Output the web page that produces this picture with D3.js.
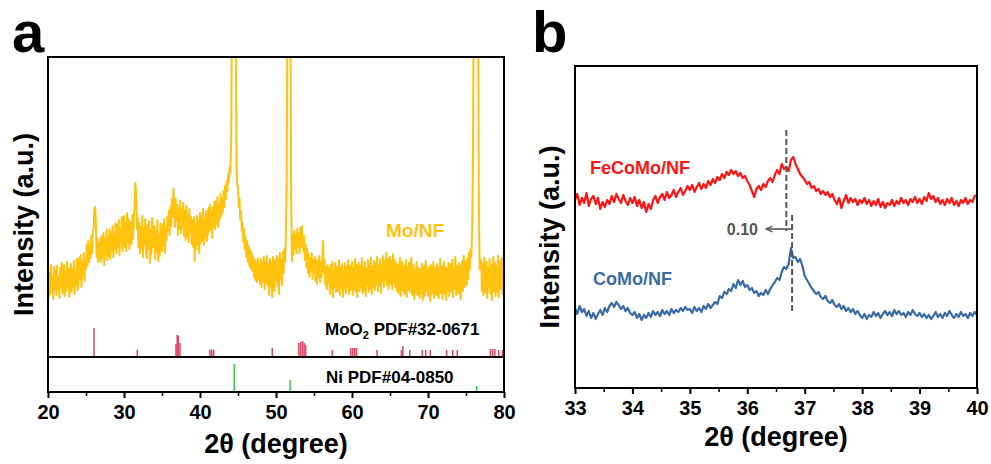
<!DOCTYPE html>
<html>
<head>
<meta charset="utf-8">
<script src="https://cdn.jsdelivr.net/npm/d3@7"></script>
<style>
  body { margin: 0; background: #fff; }
  text { font-family: Arial, "Liberation Sans", sans-serif; font-weight: bold; }
</style>
</head>
<body>
<script>
// ---- panel a data: Mo/NF scan, 20..80 deg, step 0.1 ----
const moStart = 20, moStep = 0.1;
const moNF = [
  88, 60, 84, 63, 92, 66, 81, 58, 90, 68,
  86, 62, 91, 67, 80, 59, 89, 70, 94, 64,
  69, 92, 61, 85, 66, 95, 71, 88, 60, 83,
  93, 65, 87, 70, 96, 63, 84, 72, 98, 67,
  73, 99, 78, 102, 70, 95, 83, 104, 76, 97,
  88, 112, 92, 116, 95, 110, 99, 121, 104, 125,
  128, 148, 150, 135, 100, 118, 95, 114, 98, 119,
  95, 121, 99, 124, 92, 118, 103, 127, 97, 120,
  101, 128, 98, 125, 106, 131, 100, 122, 109, 134,
  104, 132, 110, 137, 102, 128, 115, 140, 106, 130,
  141, 110, 134, 106, 144, 115, 138, 108, 135, 119,
  113, 142, 118, 140, 152, 174, 160, 128, 139, 110,
  134, 104, 130, 109, 141, 100, 128, 112, 138, 105,
  99, 132, 108, 136, 94, 127, 103, 139, 110, 125,
  131, 98, 126, 105, 137, 96, 122, 101, 133, 108,
  106, 133, 112, 138, 104, 129, 117, 140, 126, 146,
  122, 150, 131, 158, 140, 168, 152, 130, 158, 136,
  152, 122, 149, 128, 156, 124, 147, 130, 154, 121,
  146, 117, 151, 120, 142, 115, 148, 124, 140, 113,
  137, 110, 140, 96, 133, 108, 141, 112, 136, 104,
  144, 114, 141, 117, 148, 112, 139, 120, 146, 116,
  122, 149, 125, 152, 128, 145, 119, 150, 130, 155,
  128, 156, 133, 160, 130, 152, 138, 163, 141, 158,
  145, 166, 150, 171, 158, 176, 166, 183, 175, 190,
  185, 215, 330, 900, 2500, 3000, 1800, 330, 195, 172,
  170, 150, 158, 138, 146, 126, 134, 115, 128, 108,
  120, 100, 116, 95, 111, 91, 107, 88, 104, 86,
  100, 80, 97, 77, 94, 75, 99, 78, 92, 73,
  98, 70, 94, 76, 100, 68, 95, 74, 101, 72,
  93, 62, 98, 70, 95, 60, 100, 73, 66, 97,
  76, 101, 71, 98, 63, 104, 78, 96, 72, 105,
  84, 108, 95, 120, 170, 330, 1500, 3000, 2500, 330,
  150, 96, 122, 102, 126, 108, 121, 104, 128, 110,
  124, 104, 129, 110, 131, 118, 106, 121, 97, 112,
  90, 108, 84, 103, 80, 99, 86, 104, 78, 97,
  84, 100, 76, 97, 73, 95, 80, 101, 75, 94,
  80, 98, 116, 85, 97, 72, 90, 68, 92, 74,
  88, 63, 92, 68, 95, 60, 86, 70, 94, 65,
  90, 66, 87, 97, 62, 89, 70, 93, 60, 86,
  68, 94, 64, 90, 71, 97, 63, 91, 67, 88,
  95, 62, 89, 68, 98, 65, 92, 60, 87, 94,
  66, 91, 70, 99, 64, 90, 67, 95, 61, 88,
  72, 97, 65, 93, 69, 99, 63, 91, 70, 96,
  67, 94, 73, 100, 66, 92, 71, 98, 64, 91,
  76, 101, 70, 96, 77, 104, 72, 98, 68, 95,
  100, 73, 96, 68, 103, 75, 97, 70, 94, 66,
  92, 64, 89, 99, 61, 87, 95, 66, 91, 63,
  86, 97, 60, 90, 68, 94, 65, 88, 99, 62,
  69, 92, 58, 87, 65, 95, 62, 89, 67, 59,
  88, 64, 93, 57, 85, 91, 61, 96, 66, 87,
  61, 90, 68, 56, 92, 63, 86, 95, 59, 84,
  89, 62, 93, 67, 59, 87, 98, 64, 91, 58,
  70, 95, 63, 90, 57, 88, 67, 94, 61, 87,
  93, 65, 97, 60, 88, 68, 100, 62, 91, 69,
  64, 94, 71, 58, 90, 96, 66, 101, 70, 92,
  96, 72, 99, 78, 104, 88, 108, 100, 125, 180,
  330, 1500, 3000, 3000, 2000, 900, 330, 140, 88, 98,
  97, 66, 93, 62, 99, 72, 64, 95, 59, 90,
  70, 98, 63, 92, 57, 89, 100, 66, 94, 61,
  91, 65, 101, 60, 88, 96, 68, 99, 63, 93,
  85
];

// reference patterns (relative intensity, %)
const moo2Pos = [26.05, 31.75, 36.84, 37.0, 37.15, 37.37, 41.3, 41.55, 41.8, 49.5,
  53.0, 53.25, 53.5, 53.7, 53.9, 57.4, 59.85, 60.1, 60.35, 60.6, 63.3, 66.5, 66.7,
  67.6, 69.25, 69.7, 70.3, 72.45, 73.25, 73.85, 78.2, 78.5, 78.8, 79.3, 79.8];
const moo2Int = [100, 25, 45, 76, 74, 48, 26, 26, 26, 31,
  48, 52, 55, 48, 41, 24, 31, 31, 31, 31, 24, 24, 38,
  24, 24, 24, 24, 24, 24, 24, 28, 28, 28, 24, 24];
const niPos = [44.5, 51.85, 76.4];
const niInt = [100, 43, 21];

// ---- panel b data: 33..40 deg, step 0.04 ----
const bStart = 33, bStep = 0.04;
const feCoMo = [
  188, 194, 183, 190, 185, 195, 182, 189, 192, 184, 190, 179, 186, 181, 188, 184, 192, 186, 194, 189, 185, 193, 187, 183, 190,
  185, 191, 182, 188, 180, 186, 176, 184, 179, 188, 192, 185, 191, 194, 188, 196, 190, 193, 198, 191, 196, 200, 193, 197, 202,
  198, 203, 196, 201, 205, 199, 204, 200, 207, 203, 209, 205, 211, 208, 214, 210, 216, 213, 218, 214, 217, 212, 215, 210, 212,
  207, 203, 197, 191, 199, 202, 198, 204, 201, 207, 210, 206, 213, 218, 214, 224, 219, 221, 217, 228, 231, 224, 219, 214, 211,
  208, 204, 206, 200, 202, 197, 199, 194, 197, 193, 196, 191, 194, 188, 184, 190, 180, 187, 193, 185, 190, 186, 189, 183, 188,
  185, 190, 184, 188, 182, 187, 183, 189, 181, 186, 180, 185, 183, 188, 182, 187, 184, 190, 185, 188, 183, 189, 186, 191, 185,
  189, 184, 191, 187, 195, 189, 192, 186, 190, 184, 188, 183, 189, 185, 190, 183, 187, 182, 188, 185, 190, 184, 188, 186, 192,
  193
];
const coMo = [
  80, 74, 82, 76, 79, 72, 77, 70, 75, 69, 74, 78, 73, 80, 76, 82, 85, 81, 86, 83, 79, 82, 77, 80, 75,
  73, 76, 70, 74, 68, 73, 70, 75, 71, 77, 73, 76, 72, 78, 74, 77, 73, 79, 75, 78, 76, 80, 77, 81, 78,
  79, 75, 81, 77, 80, 76, 82, 79, 84, 80, 83, 86, 84, 92, 90, 96, 94, 99, 97, 104, 100, 108, 103, 107, 101,
  103, 98, 100, 95, 97, 92, 95, 93, 98, 94, 99, 103, 106, 110, 108, 116, 121, 119, 124, 140, 130, 131, 126, 129, 122,
  112, 108, 104, 100, 97, 94, 96, 91, 89, 92, 87, 85, 88, 83, 81, 84, 79, 82, 77, 80, 76, 79, 74, 77, 73,
  70, 74, 69, 73, 71, 76, 72, 75, 70, 74, 77, 73, 76, 72, 78, 74, 77, 73, 75, 71, 76, 73, 78, 74, 72,
  75, 71, 74, 70, 73, 69, 72, 76, 71, 74, 70, 75, 72, 77, 73, 70, 74, 71, 76, 72, 74, 70, 75, 72, 76,
  73
];
// peak positions of FeCoMo/NF and CoMo/NF (shift 0.10)
const peakFe = 36.68, peakCo = 36.78;

const yellow = "#FFC20E", red = "#FF1414", blue = "#3A6CA3", grey = "#555";

const svg = d3.select("body").append("svg")
  .attr("width", 991).attr("height", 464);

// ================= panel a =================
const A = {left: 48, top: 57, right: 504, bottom: 392, split: 357};
const xA = d3.scaleLinear().domain([20, 80]).range([A.left, A.right]);
const yA = d3.scaleLinear().domain([0, 300]).range([A.split, A.top]);
const yMo = d3.scaleLinear().domain([0, 100]).range([A.split, A.split - 29]);
const yNi = d3.scaleLinear().domain([0, 100]).range([A.bottom, A.bottom - 28]);

svg.append("clipPath").attr("id", "clipA")
  .append("rect").attr("x", A.left).attr("y", A.top)
  .attr("width", A.right - A.left).attr("height", A.split - A.top);

svg.append("path")
  .datum(moNF)
  .attr("clip-path", "url(#clipA)")
  .attr("fill", "none")
  .attr("stroke", yellow)
  .attr("stroke-width", 2)
  .attr("stroke-linejoin", "round")
  .attr("d", d3.line().x((d, i) => xA(moStart + i * moStep)).y(d => yA(d)));

svg.append("g").selectAll("line")
  .data(moo2Pos)
  .join("line")
  .attr("x1", d => xA(d)).attr("x2", d => xA(d))
  .attr("y1", yMo(0)).attr("y2", (d, i) => yMo(moo2Int[i]))
  .attr("stroke", "#DC4660").attr("stroke-width", 1.5);

svg.append("g").selectAll("line")
  .data(niPos)
  .join("line")
  .attr("x1", d => xA(d)).attr("x2", d => xA(d))
  .attr("y1", yNi(0)).attr("y2", (d, i) => yNi(niInt[i]))
  .attr("stroke", "#2ECC4A").attr("stroke-width", 1.5);

// frame + divider
svg.append("rect").attr("x", A.left).attr("y", A.top)
  .attr("width", A.right - A.left).attr("height", A.bottom - A.top)
  .attr("fill", "none").attr("stroke", "#000").attr("stroke-width", 2);
svg.append("line").attr("x1", A.left).attr("x2", A.right)
  .attr("y1", A.split).attr("y2", A.split)
  .attr("stroke", "#000").attr("stroke-width", 2);

function drawAxis(x, y0, major, minor) {
  const gMin = svg.append("g").attr("transform", `translate(0,${y0})`)
    .call(d3.axisBottom(x).tickValues(minor).tickSize(4).tickFormat(""));
  gMin.select(".domain").remove();
  gMin.selectAll("line").attr("stroke-width", 1.5);
  const g = svg.append("g").attr("transform", `translate(0,${y0})`)
    .call(d3.axisBottom(x).tickValues(major).tickSize(6).tickPadding(7).tickFormat(d3.format("d")));
  g.select(".domain").remove();
  g.selectAll("line").attr("stroke-width", 2);
  g.selectAll("text").attr("font-size", 20).attr("font-weight", "bold")
    .attr("font-family", "Arial, 'Liberation Sans', sans-serif").attr("fill", "#000");
}
drawAxis(xA, A.bottom, d3.range(20, 81, 10), d3.range(25, 80, 10));

svg.append("text").attr("x", (A.left + A.right) / 2).attr("y", 453)
  .attr("text-anchor", "middle").attr("font-size", 27).text("2θ (degree)");
svg.append("text")
  .attr("transform", `translate(33,${(A.top + A.bottom) / 2}) rotate(-90)`)
  .attr("text-anchor", "middle").attr("font-size", 27).text("Intensity (a.u.)");
svg.append("text").attr("x", 12).attr("y", 52).attr("font-size", 58).text("a");

svg.append("text").attr("x", 386).attr("y", 237).attr("font-size", 19)
  .attr("fill", yellow).text("Mo/NF");
const moLab = svg.append("text").attr("x", 325).attr("y", 335).attr("font-size", 17);
moLab.append("tspan").text("MoO");
moLab.append("tspan").attr("font-size", 11).attr("dy", 4).text("2");
moLab.append("tspan").attr("dy", -4).text(" PDF#32-0671");
svg.append("text").attr("x", 326).attr("y", 383).attr("font-size", 17).text("Ni PDF#04-0850");

// ================= panel b =================
const B = {left: 575, top: 66, right: 977, bottom: 388};
const xB = d3.scaleLinear().domain([33, 40]).range([B.left, B.right]);
const yB = d3.scaleLinear().domain([0, 322]).range([B.bottom, B.top]);
const lineB = d3.line().x((d, i) => xB(bStart + i * bStep)).y(d => yB(d));

svg.append("path").datum(feCoMo)
  .attr("fill", "none").attr("stroke", red).attr("stroke-width", 2.2)
  .attr("stroke-linejoin", "round").attr("d", lineB);
svg.append("path").datum(coMo)
  .attr("fill", "none").attr("stroke", blue).attr("stroke-width", 2.2)
  .attr("stroke-linejoin", "round").attr("d", lineB);

// dashed peak markers and shift arrow
svg.append("line").attr("x1", xB(peakFe)).attr("x2", xB(peakFe))
  .attr("y1", yB(258)).attr("y2", yB(157))
  .attr("stroke", grey).attr("stroke-width", 2).attr("stroke-dasharray", "6,3");
svg.append("line").attr("x1", xB(peakCo)).attr("x2", xB(peakCo))
  .attr("y1", yB(173)).attr("y2", yB(75))
  .attr("stroke", grey).attr("stroke-width", 2).attr("stroke-dasharray", "6,3");

svg.append("defs").append("marker").attr("id", "arrow")
  .attr("viewBox", "0 0 10 10").attr("refX", 9).attr("refY", 5)
  .attr("markerWidth", 5).attr("markerHeight", 5).attr("orient", "auto")
  .append("path").attr("d", "M1,1.5 L9,5 L1,8.5").attr("fill", "none")
  .attr("stroke", grey).attr("stroke-width", 1.8);
svg.append("line").attr("x1", xB(peakCo)).attr("x2", xB(peakCo) - 26)
  .attr("y1", yB(159)).attr("y2", yB(159))
  .attr("stroke", grey).attr("stroke-width", 1.6).attr("marker-end", "url(#arrow)");
svg.append("text").attr("x", 758).attr("y", yB(159) + 6).attr("text-anchor", "end")
  .attr("font-size", 16).attr("fill", grey).text("0.10");

svg.append("rect").attr("x", B.left).attr("y", B.top)
  .attr("width", B.right - B.left).attr("height", B.bottom - B.top)
  .attr("fill", "none").attr("stroke", "#000").attr("stroke-width", 2);
drawAxis(xB, B.bottom, d3.range(33, 40.01, 1), d3.range(33.5, 40, 1));

svg.append("text").attr("x", (B.left + B.right) / 2).attr("y", 446)
  .attr("text-anchor", "middle").attr("font-size", 27).text("2θ (degree)");
svg.append("text")
  .attr("transform", `translate(559,${(B.top + B.bottom) / 2 + 10}) rotate(-90)`)
  .attr("text-anchor", "middle").attr("font-size", 27).text("Intensity (a.u.)");
svg.append("text").attr("x", 532).attr("y", 52).attr("font-size", 58).text("b");

svg.append("text").attr("x", 590).attr("y", 174).attr("font-size", 18)
  .attr("fill", red).text("FeCoMo/NF");
svg.append("text").attr("x", 593).attr("y", 285).attr("font-size", 18)
  .attr("fill", blue).text("CoMo/NF");
</script>
</body>
</html>
